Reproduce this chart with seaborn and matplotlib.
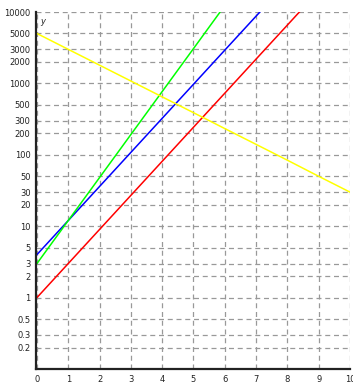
import matplotlib
matplotlib.use("Agg")
import matplotlib.pyplot as plt
import seaborn as sns
import pandas as pd

# values (log-scaled y)
x_vals = [0, 1, 2, 3, 4, 5, 6, 7, 8, 9, 10]
red_y = [1, 3, 9, 27, 81, 243, 729, 2190, 6560, 19700, 59000]
blue_y = [4, 12, 36, 108, 324, 972, 2920, 8750, 26200, 78700, 236000]
green_y = [3, 12, 48, 192, 768, 3070, 12300, 49200, 197000, 786000, 3150000]
yellow_y = [5000, 3000, 1800, 1080, 648, 389, 233, 140, 84, 50, 30]

series_names = ["red", "blue", "green", "yellow"]
series_colors = ["#ff0000", "#0000ff", "#00ff00", "#ffff00"]

y_ticks = [0.2, 0.3, 0.5, 1, 2, 3, 5, 10, 20, 30, 50, 100, 200, 300, 500,
           1000, 2000, 3000, 5000, 10000]
y_tick_labels = ["0.2", "0.3", "0.5", "1", "2", "3", "5", "10", "20", "30",
                 "50", "100", "200", "300", "500", "1000", "2000", "3000",
                 "5000", "10000"]
x_ticks = list(range(11))

frames = []
for name, ys in zip(series_names, [red_y, blue_y, green_y, yellow_y]):
    frames.append(pd.DataFrame({"x": x_vals, "y": ys, "series": name}))
df = pd.concat(frames, ignore_index=True)

sns.set_style("white")
plt.rcParams["font.family"] = ["DejaVu Sans"]

fig = plt.figure(figsize=(3.53, 3.85), dpi=100)
ax = fig.add_axes([36 / 353, 16 / 385, 314 / 353, 357 / 385])

sns.lineplot(data=df, x="x", y="y", hue="series", palette=series_colors,
             hue_order=series_names, linewidth=1.1, legend=False, ax=ax)

ax.set_yscale("log")
ax.set_ylim(0.1, 10000)
ax.set_xlim(-0.03, 10)

ax.set_yticks(y_ticks)
ax.set_yticklabels(y_tick_labels)
ax.minorticks_off()
ax.set_xticks(x_ticks)
ax.set_xticklabels([str(t) for t in x_ticks])

ax.grid(True, color="#999999", linestyle=(0, (4, 3)), linewidth=0.9)
ax.tick_params(axis="both", labelsize=6, length=2, width=0.8,
               color="#333333", labelcolor="#222222", pad=2)

for side in ["top", "right"]:
    ax.spines[side].set_visible(False)
for side in ["left", "bottom"]:
    ax.spines[side].set_color("#222222")
    ax.spines[side].set_linewidth(1.6)

ax.set_xlabel("")
ax.set_ylabel("")
ax.text(0.012, 0.985, "y", transform=ax.transAxes, fontsize=6,
        style="italic", ha="left", va="top", color="#222222")

fig.savefig("out.png", dpi=100)
